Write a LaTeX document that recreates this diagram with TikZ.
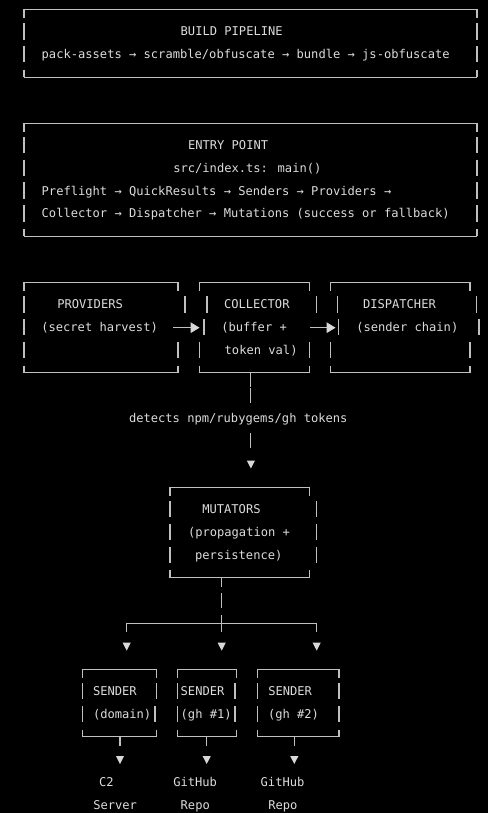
\documentclass[tikz,border=0pt]{standalone}
\usepackage{fontspec}
\newfontfamily\monofam{DejaVu Sans Mono}
\definecolor{textc}{HTML}{DCDCDC}
\definecolor{linec}{HTML}{C0C0C0}
\definecolor{tric}{HTML}{D8D8D8}
\tikzset{
  txt/.style={anchor=base west, inner sep=0pt, outer sep=0pt, text=textc,
              font=\monofam\fontsize{12.1}{14}\selectfont},
  hseg/.style={draw=linec, line width=0.9pt},
  vseg/.style={draw=linec, line width=1.3pt},
}
% x1 x2 ytop ybot
\newcommand\asciibox[4]{%
  \draw[hseg] (#1,{#3+0.8}) -- (#2,{#3+0.8});
  \draw[vseg] (#1,{#3+0.8}) -- (#1,{#3+9.5});
  \draw[vseg] (#2,{#3+0.8}) -- (#2,{#3+9.5});
  \draw[hseg] (#1,{#4+0.3}) -- (#2,{#4+0.3});
  \draw[vseg] (#1,{#4-7}) -- (#1,{#4+0.3});
  \draw[vseg] (#2,{#4-7}) -- (#2,{#4+0.3});
}
\newcommand\rowbar[2]{\draw[vseg] (#1,{#2-8}) -- (#1,{#2+8.3});}
\newcommand\downtri[2]{\fill[tric] ({#1-4.1},{#2-4}) -- ({#1+4.1},{#2-4}) -- (#1,{#2+4}) -- cycle;}
\newcommand\righttri[2]{\fill[tric] ({#1-9},{#2-5.5}) -- ({#1-9},{#2+5.5}) -- (#1,#2) -- cycle;}
\begin{document}
\begin{tikzpicture}[x=1pt,y=-1pt]
\useasboundingbox (0,0) rectangle (488,813);
\fill[black] (0,0) rectangle (488,813);

% ---------- BUILD PIPELINE ----------
\asciibox{24}{477}{8.5}{76.75}
\rowbar{24}{31.25}\rowbar{477}{31.25}
\rowbar{24}{54}\rowbar{477}{54}
\node[txt] (bp) at (180.7,{31.25+4.7}) {BUILD PIPELINE};
\node[txt] (bpchain) at (41.7,{54+4.7}) {pack-assets → scramble/obfuscate → bundle → js-obfuscate};

% ---------- ENTRY POINT ----------
\asciibox{24}{477}{122.25}{236}
\foreach \yy in {145,167.75,190.5,213.25}{\rowbar{24}{\yy}\rowbar{477}{\yy}}
\node[txt] (ep) at (188,{145+4.7}) {ENTRY POINT};
\node[txt] (src) at (173.3,{167.75+4.7}) {src/index.ts: main()};
\node[txt] (pre) at (41.7,{190.5+4.7}) {Preflight → QuickResults → Senders → Providers →};
\node[txt] (colln) at (41.7,{213.25+4.7}) {Collector → Dispatcher → Mutations (success or fallback)};

% ---------- PROVIDERS / COLLECTOR / DISPATCHER ----------
\asciibox{24}{178}{281.5}{372.5}
\asciibox{199.3}{309.3}{281.5}{372.5}
\asciibox{330.7}{470}{281.5}{372.5}
% row 13
\rowbar{24}{304.25}\rowbar{185}{304.25}\rowbar{207}{304.25}
\rowbar{316.7}{304.25}\rowbar{337.7}{304.25}\rowbar{476.7}{304.25}
% row 14
\rowbar{24}{327}\rowbar{204}{327}\rowbar{338.3}{327}\rowbar{479}{327}
% row 15
\rowbar{24}{349.75}\rowbar{178}{349.75}\rowbar{199.3}{349.75}
\rowbar{309.3}{349.75}\rowbar{330.7}{349.75}\rowbar{470}{349.75}

\node[txt] (prov) at (57.3,{304.25+4.7}) {PROVIDERS};
\node[txt] (coll) at (224,{304.25+4.7}) {COLLECTOR};
\node[txt] (disp) at (363,{304.25+4.7}) {DISPATCHER};
\node[txt] (harv) at (41.3,{327+4.7}) {(secret harvest)};
\node[txt] (buf) at (221.3,{327+4.7}) {(buffer +};
\node[txt] (chain) at (356.3,{327+4.7}) {(sender chain)};
\node[txt] (tok) at (224.7,{349.75+4.7}) {token val)};

% arrows providers -> collector -> dispatcher
\coordinate (a1s) at (173.3,327.7);
\coordinate (a1e) at (199.5,327.7);
\coordinate (a2s) at (310,327.7);
\coordinate (a2e) at (335.5,327.7);
\draw[hseg] (a1s) -- ++(17.5,0);
\righttri{199.5}{327.7}
\draw[hseg] (a2s) -- ++(17,0);
\righttri{335.5}{327.7}

% collector -> mutators
\coordinate (colB) at (250.7,372.8);
\draw[vseg] (colB) ++(0,0.5) -- ++(0,13.4);
\draw[vseg] (colB) ++(0,15.5) -- ++(0,15);
\draw[vseg] (colB) ++(0,60.5) -- ++(0,15);
\downtri{250.9}{464.5}
\node[txt] (det) at (129,{418+4.7}) {detects npm/rubygems/gh tokens};

% ---------- MUTATORS ----------
\asciibox{170}{309.3}{486.25}{577.25}
\foreach \yy in {509,531.75,554.5}{\rowbar{170}{\yy}\rowbar{316.7}{\yy}}
\node[txt] (mut) at (202.3,{509+4.7}) {MUTATORS};
\node[txt] (prop) at (188,{531.75+4.7}) {(propagation +};
\node[txt] (pers) at (195,{554.5+4.7}) {persistence)};

% mutators -> senders
\coordinate (mutB) at (221.7,577.5);
\coordinate (splitL) at (126.7,623.3);
\coordinate (splitR) at (316.7,623.3);
\draw[vseg] (mutB) ++(0,0.6) -- ++(0,8.6);
\draw[vseg] (mutB) ++(0,15.2) -- ++(0,15.6);
\draw[vseg] (mutB) ++(0,37.5) -- ++(0,16.7);
\draw[hseg] (splitL) -- (splitR);
\draw[vseg] (splitL) -- ++(0,8.4);
\draw[vseg] (splitR) -- ++(0,8.4);
\downtri{126.7}{646.6}
\downtri{221.7}{646.6}
\downtri{316.7}{646.6}

% ---------- SENDERS ----------
\asciibox{82.7}{156.5}{668.25}{736.5}
\asciibox{177.7}{236.7}{668.25}{736.5}
\asciibox{257.7}{339}{668.25}{736.5}
\rowbar{82.7}{691}\rowbar{156.7}{691}\rowbar{82.7}{713.75}\rowbar{155}{713.75}
\rowbar{177.7}{691}\rowbar{235}{691}\rowbar{177.7}{713.75}\rowbar{235}{713.75}
\rowbar{257.7}{691}\rowbar{339}{691}\rowbar{257.7}{713.75}\rowbar{339}{713.75}
\node[txt] (s1) at (93,{691+4.7}) {SENDER};
\node[txt] (s2) at (180.7,{691+4.7}) {SENDER};
\node[txt] (s3) at (268.3,{691+4.7}) {SENDER};
\node[txt] (d1) at (93,{713.75+4.7}) {(domain)};
\node[txt] (d2) at (180.7,{713.75+4.7}) {(gh \#1)};
\node[txt] (d3) at (268,{713.75+4.7}) {(gh \#2)};

% senders -> targets
\coordinate (s1B) at (120,737);
\coordinate (s2B) at (206.7,737);
\coordinate (s3B) at (294.3,737);
\draw[vseg] (s1B) -- ++(0,9);
\draw[vseg] (s2B) -- ++(0,9);
\draw[vseg] (s3B) -- ++(0,9);
\downtri{120}{760}
\downtri{206.7}{760}
\downtri{294.3}{760}

\node[txt] (c2) at (99,{782+4.7}) {C2};
\node[txt] (srv) at (93.3,{804.75+4.7}) {Server};
\node[txt] (gh1) at (173.3,{782+4.7}) {GitHub};
\node[txt] (rp1) at (180.7,{804.75+4.7}) {Repo};
\node[txt] (gh2) at (260.7,{782+4.7}) {GitHub};
\node[txt] (rp2) at (268.3,{804.75+4.7}) {Repo};
\end{tikzpicture}
\end{document}
